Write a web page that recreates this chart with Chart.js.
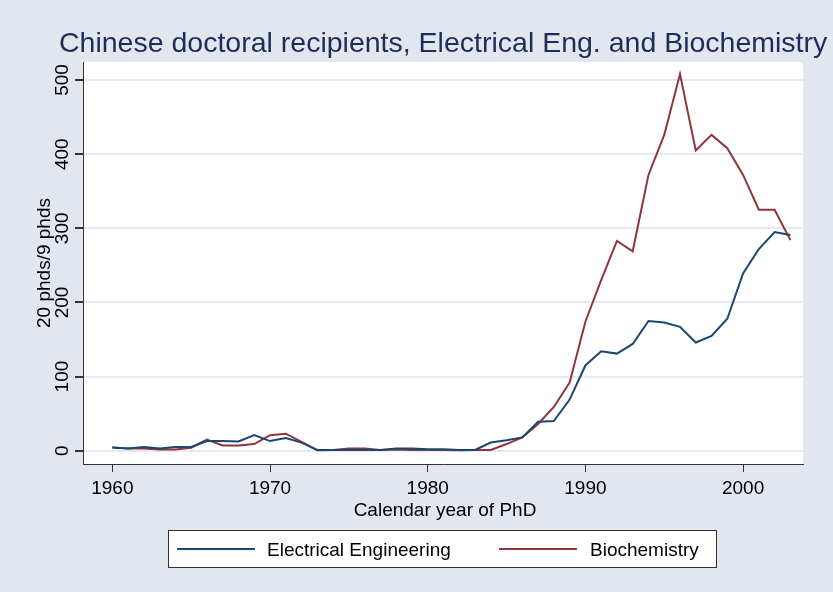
<!DOCTYPE html>
<html>
<head>
<meta charset="utf-8">
<script src="https://cdn.jsdelivr.net/npm/chart.js@4/dist/chart.umd.min.js"></script>
<style>
  html, body { margin: 0; padding: 0; background: #e1e6ef; }
  canvas { display: block; }
</style>
</head>
<body>
<canvas id="phdChart" width="833" height="592"></canvas>
<script>
// calendar year of PhD
var years = [1960, 1961, 1962, 1963, 1964, 1965, 1966, 1967, 1968, 1969,
             1970, 1971, 1972, 1973, 1974, 1975, 1976, 1977, 1978, 1979,
             1980, 1981, 1982, 1983, 1984, 1985, 1986, 1987, 1988, 1989,
             1990, 1991, 1992, 1993, 1994, 1995, 1996, 1997, 1998, 1999,
             2000, 2001, 2002, 2003];

var electricalEng = [4.5, 3, 5, 3, 5, 5, 13, 13, 12.5, 21,
                     13, 17, 11, 1, 1, 1, 1, 1, 3, 3,
                     2, 2, 1, 1, 11, 14, 18, 39, 40, 69,
                     115, 134, 131, 144, 175, 173, 167, 146, 155, 178,
                     239, 272, 295, 291];

var biochemistry = [4.5, 3, 3, 1.5, 1.5, 4, 15, 7, 7, 9,
                    21, 23, 12, 0.5, 1, 3, 3, 1, 1.5, 1,
                    1, 1, 0.5, 1, 1, 9, 18, 36, 59, 92,
                    174, 230, 283, 269, 372, 426, 508, 405, 426, 408,
                    372, 325, 325, 284];

var xTicks = [1960, 1970, 1980, 1990, 2000];
var yTicks = [0, 100, 200, 300, 400, 500];

var seriesNames = ['Electrical Engineering', 'Biochemistry'];
var chartTitle = 'Chinese doctoral recipients, Electrical Eng. and Biochemistry';
var xTitle = 'Calendar year of PhD';
var yTitle = '20 phds/9 phds';

var FONT = '"Liberation Sans", Arial, sans-serif';
var NAVY = '#1a476f';
var MAROON = '#90353b';

function toPoints(vals) {
    return years.map(function(yr, i) { return { x: yr, y: vals[i] }; });
}

// stata-like decorations: background, titles, rotated y labels, boxed legend
var stataLook = {
    id: 'stataLook',
    beforeDraw: function(chart) {
        var ctx = chart.ctx, a = chart.chartArea;
        ctx.save();
        ctx.fillStyle = '#e1e6ef';
        ctx.fillRect(0, 0, chart.width, chart.height);
        ctx.fillStyle = '#ffffff';
        ctx.fillRect(a.left, a.top, a.right - a.left, a.bottom - a.top);
        ctx.restore();
    },
    afterDraw: function(chart) {
        var ctx = chart.ctx, a = chart.chartArea;
        var yScale = chart.scales.y;
        ctx.save();

        // main title
        ctx.fillStyle = '#1f2c58';
        ctx.font = '28.5px ' + FONT;
        ctx.textAlign = 'left';
        ctx.textBaseline = 'alphabetic';
        ctx.fillText(chartTitle, 59, 52);

        // y tick labels, rotated
        ctx.fillStyle = '#000000';
        ctx.font = '19px ' + FONT;
        ctx.textAlign = 'center';
        yTicks.forEach(function(v) {
            var py = yScale.getPixelForValue(v);
            ctx.save();
            ctx.translate(68, py);
            ctx.rotate(-Math.PI / 2);
            ctx.fillText(String(v), 0, 0);
            ctx.restore();
        });

        // y axis title
        ctx.save();
        ctx.translate(50, 263);
        ctx.rotate(-Math.PI / 2);
        ctx.fillText(yTitle, 0, 0);
        ctx.restore();

        // x axis title
        ctx.fillText(xTitle, (a.left + a.right) / 2 + 2, 516);

        // legend box
        ctx.fillStyle = '#ffffff';
        ctx.fillRect(168, 530, 548, 37);
        ctx.strokeStyle = '#333333';
        ctx.lineWidth = 1;
        ctx.strokeRect(168.5, 530.5, 548, 37);

        var items = [
            { x1: 177, x2: 255, tx: 267 },
            { x1: 499, x2: 577, tx: 590 }
        ];
        chart.data.datasets.forEach(function(ds, i) {
            var it = items[i];
            ctx.strokeStyle = ds.borderColor;
            ctx.lineWidth = 2;
            ctx.beginPath();
            ctx.moveTo(it.x1, 549);
            ctx.lineTo(it.x2, 549);
            ctx.stroke();
            ctx.fillStyle = '#000000';
            ctx.textAlign = 'left';
            ctx.fillText(ds.label, it.tx, 556);
        });
        ctx.restore();
    }
};

var ctx = document.getElementById('phdChart').getContext('2d');
var chart = new Chart(ctx, {
    type: 'line',
    data: {
        datasets: [
            {
                label: seriesNames[0],
                data: toPoints(electricalEng),
                borderColor: NAVY,
                borderWidth: 2,
                pointRadius: 0,
                fill: false,
                tension: 0
            },
            {
                label: seriesNames[1],
                data: toPoints(biochemistry),
                borderColor: MAROON,
                borderWidth: 2,
                pointRadius: 0,
                fill: false,
                tension: 0
            }
        ]
    },
    options: {
        responsive: false,
        animation: false,
        layout: {
            padding: { left: 0, top: 62, right: 30, bottom: 0 }
        },
        scales: {
            x: {
                type: 'linear',
                min: 1958.14,
                max: 2003.8,
                afterFit: function(scale) { scale.height = 128; },
                afterBuildTicks: function(scale) {
                    scale.ticks = xTicks.map(function(v) { return { value: v }; });
                },
                grid: {
                    drawOnChartArea: false,
                    drawTicks: true,
                    tickLength: 8,
                    tickColor: '#333333'
                },
                border: { color: '#333333', width: 1 },
                ticks: {
                    color: '#000000',
                    padding: 5,
                    maxRotation: 0,
                    font: { family: FONT, size: 19 },
                    callback: function(value) { return String(value); }
                }
            },
            y: {
                min: -17.9,
                max: 524.3,
                afterFit: function(scale) { scale.width = 83; },
                afterBuildTicks: function(scale) {
                    scale.ticks = yTicks.map(function(v) { return { value: v }; });
                },
                grid: {
                    color: '#e4e9f2',
                    lineWidth: 2,
                    drawTicks: true,
                    tickLength: 8,
                    tickColor: '#333333'
                },
                border: { color: '#333333', width: 1 },
                ticks: { display: false }
            }
        },
        plugins: {
            legend: { display: false },
            title: { display: false },
            tooltip: { enabled: false }
        }
    },
    plugins: [stataLook]
});
</script>
</body>
</html>
